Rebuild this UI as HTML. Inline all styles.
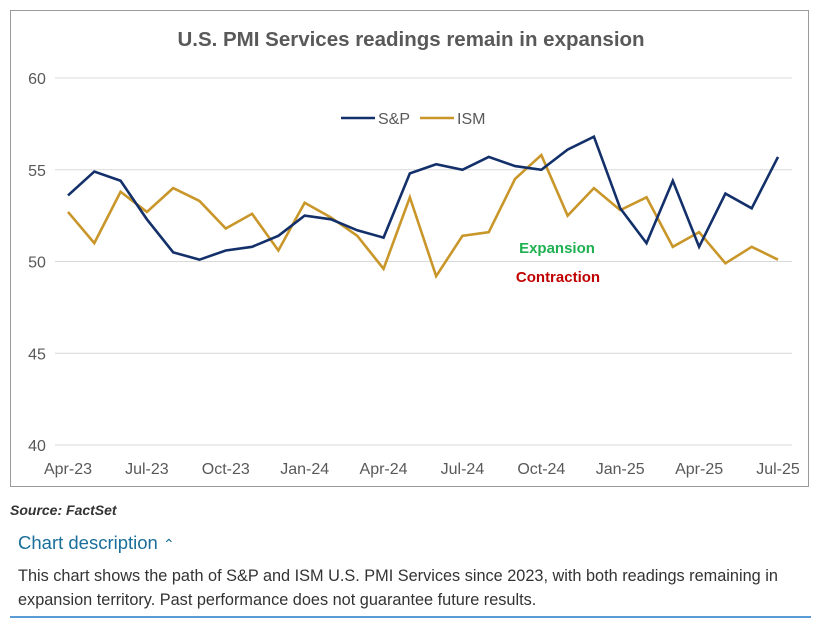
<!DOCTYPE html>
<html><head><meta charset="utf-8"><style>
body{margin:0;width:822px;height:632px;background:#fff;font-family:"Liberation Sans",sans-serif;position:relative;overflow:hidden}
#box{position:absolute;left:10px;top:10px;width:799px;height:477px;border:1px solid #9a9a9a;box-sizing:border-box}
.t{position:absolute;white-space:nowrap}
</style></head><body>
<div id="box"></div>
<svg id="chart" width="822" height="632" style="position:absolute;left:0;top:0"></svg>
<div class="t" style="left:10px;top:502px;font-size:14px;font-style:italic;font-weight:bold;color:#333">Source: FactSet</div>
<div class="t" style="left:18px;top:532px;font-size:18.5px;color:#1a6f9a">Chart description <span style="font-size:14px">&#8963;</span></div>
<div class="t" style="left:18px;top:564px;font-size:16.3px;color:#333;line-height:24px">This chart shows the path of S&amp;P and ISM U.S. PMI Services since 2023, with both readings remaining in<br>expansion territory. Past performance does not guarantee future results.</div>
<div style="position:absolute;left:10px;top:616px;width:801px;height:2px;background:#5b9bd5"></div>
<script>
const months=["Apr-23","May-23","Jun-23","Jul-23","Aug-23","Sep-23","Oct-23","Nov-23","Dec-23","Jan-24","Feb-24","Mar-24","Apr-24","May-24","Jun-24","Jul-24","Aug-24","Sep-24","Oct-24","Nov-24","Dec-24","Jan-25","Feb-25","Mar-25","Apr-25","May-25","Jun-25","Jul-25"];
const spValues=[53.6,54.9,54.4,52.3,50.5,50.1,50.6,50.8,51.4,52.5,52.3,51.7,51.3,54.8,55.3,55.0,55.7,55.2,55.0,56.1,56.8,52.9,51.0,54.4,50.8,53.7,52.9,55.7];
const ismValues=[52.7,51.0,53.8,52.7,54.0,53.3,51.8,52.6,50.6,53.2,52.4,51.4,49.6,53.5,49.2,51.4,51.6,54.5,55.8,52.5,54.0,52.8,53.5,50.8,51.6,49.9,50.8,50.1];
const yTicks=[40,45,50,55,60];
const xLabelIdx=[0,3,6,9,12,15,18,21,24,27];
const NS="http://www.w3.org/2000/svg";
const svg=document.getElementById('chart');
const x=i=>68+i*(778-68)/27;
const y=v=>445-(v-40)*(445-78)/20;
function mk(tag,attrs){const e=document.createElementNS(NS,tag);for(const k in attrs)e.setAttribute(k,attrs[k]);svg.appendChild(e);return e;}
let tt=mk('text',{x:411,y:46,'text-anchor':'middle','font-size':20.5,'font-weight':'bold',fill:'#595959','font-family':'Liberation Sans'});
tt.textContent='U.S. PMI Services readings remain in expansion';


yTicks.forEach(v=>{
  const l=mk('line',{x1:55,x2:792,y1:y(v),y2:y(v),stroke:'#d9d9d9','stroke-width':1});
  
  
  const t=mk('text',{x:37,y:y(v)+6,'text-anchor':'middle','font-size':16,fill:'#595959'});
  t.textContent=v;
  
  
});
xLabelIdx.forEach(i=>{
  const t=mk('text',{x:x(i),y:474,'text-anchor':'middle','font-size':16,fill:'#595959'});
  t.textContent=months[i];
  
  
});
function series(vals,color,name){
  const p=mk('polyline',{points:vals.map((v,i)=>x(i)+','+y(v)).join(' '),fill:'none',stroke:color,'stroke-width':2.6,'stroke-linejoin':'miter'});
  
  
}
series(ismValues,'#c9962a','ism-line');
series(spValues,'#13306a','sp-line');
let l1=mk('line',{x1:341,x2:375,y1:118,y2:118,stroke:'#13306a','stroke-width':2.6});


let lt1=mk('text',{x:378,y:124,'font-size':16,fill:'#595959'});lt1.textContent='S&P';


let l2=mk('line',{x1:420,x2:454,y1:118,y2:118,stroke:'#c9962a','stroke-width':2.6});


let lt2=mk('text',{x:457,y:124,'font-size':16,fill:'#595959'});lt2.textContent='ISM';


let e=mk('text',{x:557,y:253,'text-anchor':'middle','font-size':15,'font-weight':'bold',fill:'#1fb050'});e.textContent='Expansion';


let c=mk('text',{x:558,y:282,'text-anchor':'middle','font-size':15,'font-weight':'bold',fill:'#c00000'});c.textContent='Contraction';


</script>
</body></html>
